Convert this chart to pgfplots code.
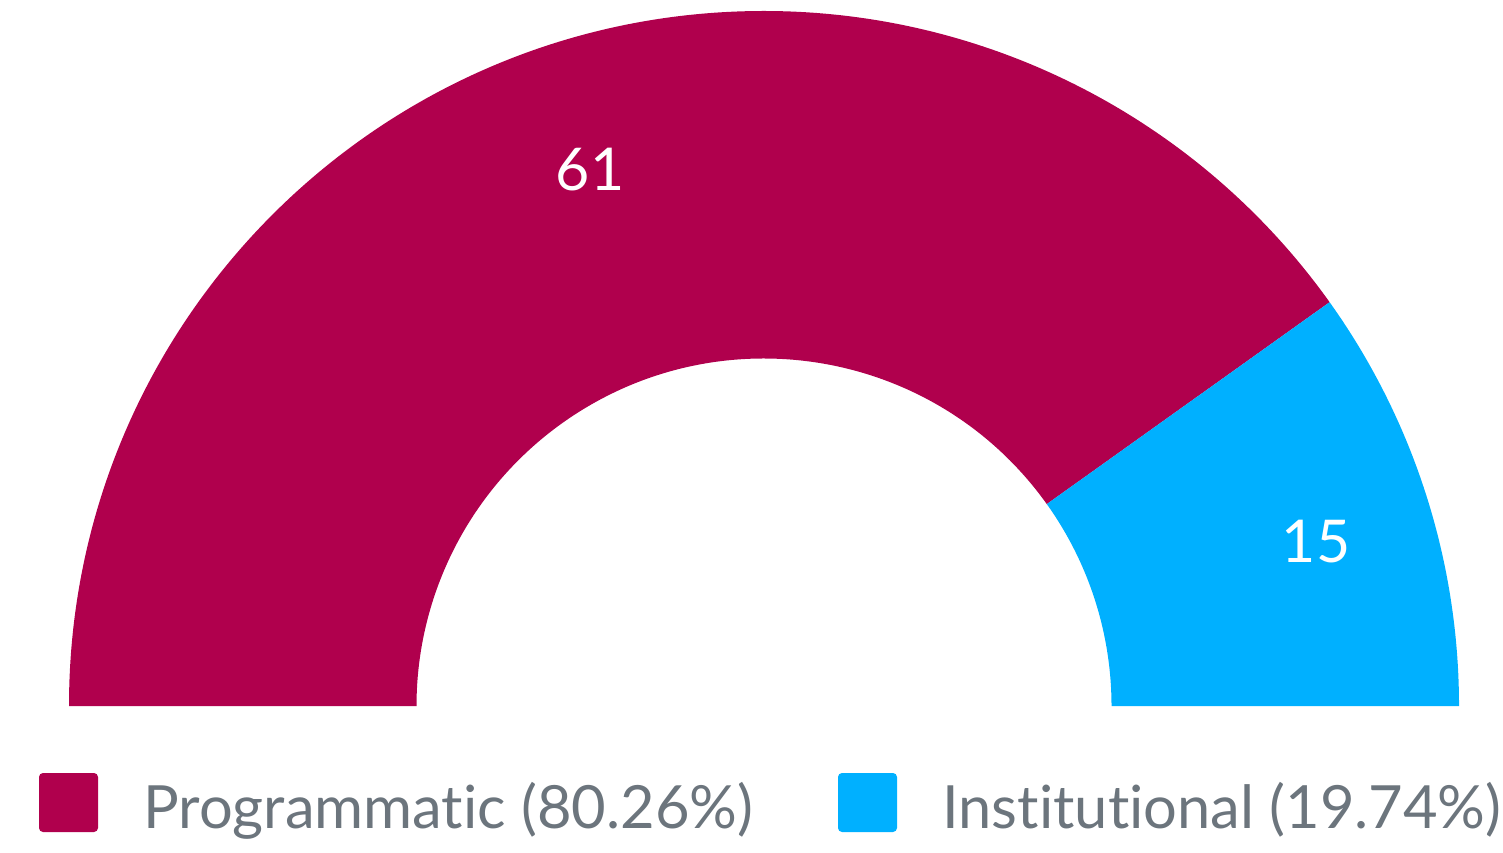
\documentclass[border=0pt]{standalone}
\usepackage{pgfplots}
\pgfplotsset{compat=1.18}
\usepackage{pgfplotstable}
\usepackage{fontspec}
\setmainfont{Lato}[Ligatures={NoCommon,NoRequired,NoContextual}]
\definecolor{progc}{HTML}{B0004D}
\definecolor{instc}{HTML}{00B0FF}
\definecolor{legtext}{HTML}{6C757D}
\pgfplotstableread{
label value
Programmatic 61
Institutional 15
}\datatable
\begin{document}
\begin{tikzpicture}
\pgfplotstablegetelem{0}{value}\of\datatable \let\va\pgfplotsretval
\pgfplotstablegetelem{1}{value}\of\datatable \let\vb\pgfplotsretval
\pgfmathsetmacro{\tot}{\va+\vb}
\pgfmathsetmacro{\spl}{180-180*\va/\tot}
\pgfmathsetmacro{\cs}{cos(\spl)}
\pgfmathsetmacro{\sn}{sin(\spl)}
\begin{axis}[x=0.5pt,y=0.5pt,xmin=-764,xmax=739,ymin=-146,ymax=706,
  hide axis,clip=false,scale only axis]
% Programmatic sector
\fill[progc] (axis cs:-695,0) arc[start angle=180,end angle=\spl,radius=347.5pt]
  -- (axis cs:{347.5*\cs},{347.5*\sn}) arc[start angle=\spl,end angle=180,radius=173.75pt] -- cycle;
% Institutional sector
\fill[instc] (axis cs:{695*\cs},{695*\sn}) arc[start angle=\spl,end angle=0,radius=347.5pt]
  -- (axis cs:347.5,0) arc[start angle=0,end angle=\spl,radius=173.75pt] -- cycle;
% value labels
\node[white,font=\fontsize{29.5}{35}\selectfont] at (axis cs:-174,536) {\va};
\node[white,font=\fontsize{29.5}{35}\selectfont] at (axis cs:552,164) {\vb};
% legend
\fill[progc,rounded corners=2pt] (axis cs:-725,-67) rectangle (axis cs:-666,-126);
\fill[instc,rounded corners=2pt] (axis cs:74,-67) rectangle (axis cs:133,-126);
\node[legtext,anchor=base west,inner sep=0pt,font=\fontsize{29.8}{36}\selectfont] at (axis cs:-621,-122) {Programmatic (80.26\%)};
\node[legtext,anchor=base west,inner sep=0pt,font=\fontsize{29.8}{36}\selectfont] at (axis cs:178,-122) {Institutional (19.74\%)};
\end{axis}
\pgfresetboundingbox
\path (current axis.south west) rectangle (current axis.north east);
\end{tikzpicture}
\end{document}
